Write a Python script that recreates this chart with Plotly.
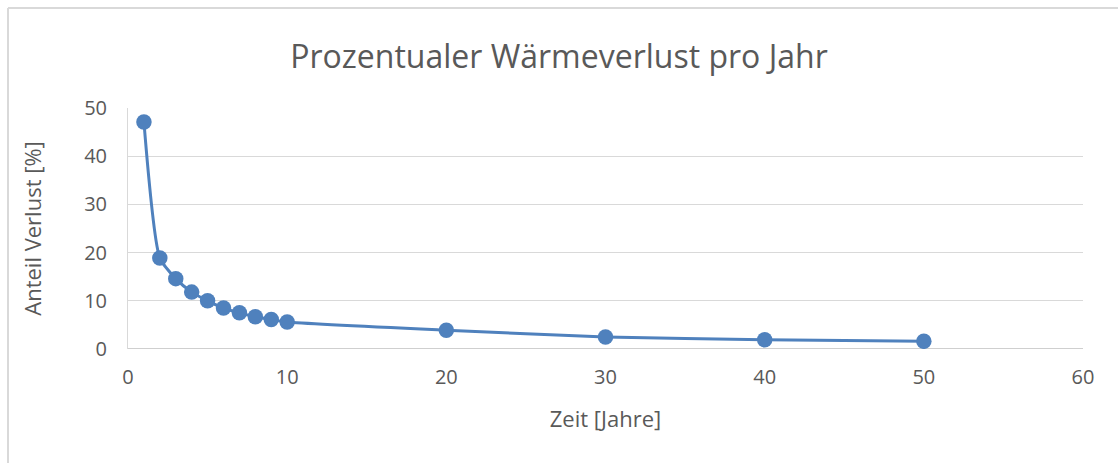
import plotly.graph_objects as go

years = [1, 2, 3, 4, 5, 6, 7, 8, 9, 10, 20, 30, 40, 50]
loss_pct = [47.1, 18.9, 14.6, 11.8, 10.0, 8.5, 7.5, 6.7, 6.1, 5.6, 3.9, 2.5, 1.9, 1.6]

title_text = "Prozentualer Wärmeverlust pro Jahr"
x_title = "Zeit [Jahre]"
y_title = "Anteil Verlust [%]"
x_ticks = [0, 10, 20, 30, 40, 50, 60]
y_ticks = [0, 10, 20, 30, 40, 50]

W, H = 1118, 463
ml, mr, mt, mb = 128, 35, 108, 114
pw, ph = W - ml - mr, H - mt - mb

color = "#4F81BD"
grey_txt = "#595959"
font_fam = "'Open Sans', Lato, sans-serif"

fig = go.Figure()
fig.add_trace(go.Scatter(
    x=years, y=loss_pct, mode="lines+markers",
    line=dict(color=color, width=3, shape="spline", smoothing=0.6),
    marker=dict(color=color, size=15.5),
    showlegend=False, hoverinfo="x+y",
))

def px_x(p):
    return (p - ml) / pw

def px_y(p):
    return 1 - (p - mt) / ph

# outer chart border (cropped screenshot style)
fig.add_shape(type="line", xref="paper", yref="paper",
              x0=px_x(8), x1=px_x(W + 5), y0=px_y(8), y1=px_y(8),
              line=dict(color="#D9D9D9", width=2), layer="below")
fig.add_shape(type="line", xref="paper", yref="paper",
              x0=px_x(8), x1=px_x(8), y0=px_y(8), y1=px_y(H + 5),
              line=dict(color="#D9D9D9", width=2), layer="below")

fig.update_layout(
    width=W, height=H,
    margin=dict(l=ml, r=mr, t=mt, b=mb),
    paper_bgcolor="white", plot_bgcolor="white",
    font=dict(family=font_fam, color=grey_txt, size=20),
    title=dict(text=title_text, x=0.5, xanchor="center", y=1 - 57 / H, yanchor="middle",
               font=dict(size=32, color=grey_txt, family=font_fam)),
    xaxis=dict(range=[0, 60], tickvals=x_ticks, showgrid=False, zeroline=False,
               showline=False, ticks="", tickfont=dict(size=20), ticklabelstandoff=14,
               title=dict(text=x_title, font=dict(size=22), standoff=22)),
    yaxis=dict(range=[0, 50], tickvals=y_ticks, showgrid=True, gridcolor="#D9D9D9",
               gridwidth=1, zeroline=False, showline=True, linecolor="#D9D9D9",
               linewidth=1, ticks="", tickfont=dict(size=20), ticklabelstandoff=16,
               title=dict(text=y_title, font=dict(size=22), standoff=36)),
)
fig.add_shape(type="line", xref="paper", yref="y", x0=0, x1=1, y0=0, y1=0,
              line=dict(color="#BFBFBF", width=1.5), layer="below")

fig.write_html("out.html", config={"displayModeBar": False},
               post_script="document.body.style.margin='0';document.body.style.padding='0';")
